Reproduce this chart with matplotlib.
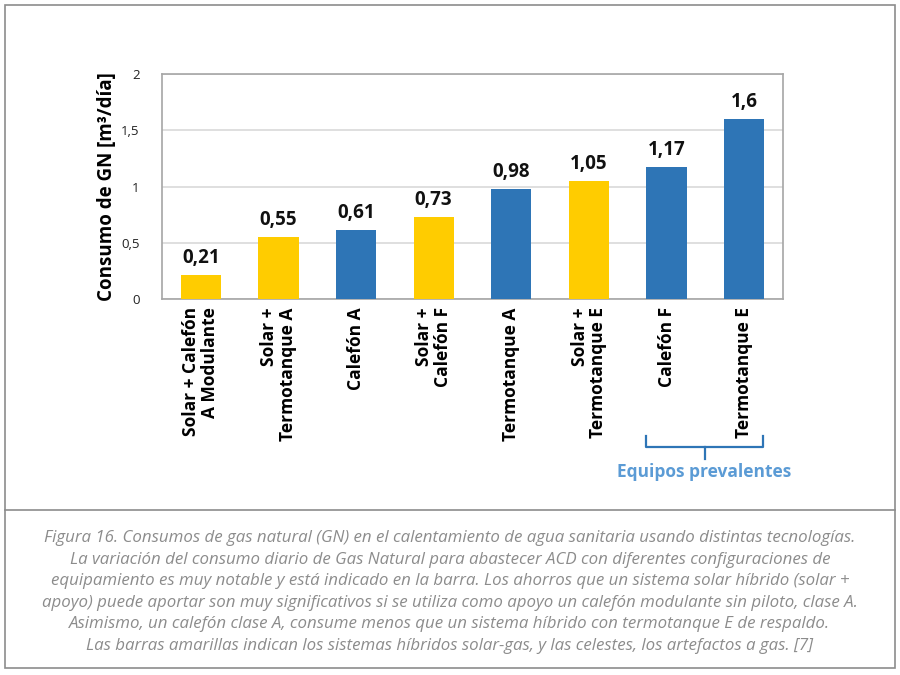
import matplotlib
matplotlib.use("Agg")
import matplotlib.pyplot as plt
from matplotlib.patches import Rectangle
from matplotlib.lines import Line2D

categories = ["Solar + Calefón\nA Modulante", "Solar +\nTermotanque A", "Calefón A",
              "Solar +\nCalefón F", "Termotanque A", "Solar +\nTermotanque E",
              "Calefón F", "Termotanque E"]
values = [0.21, 0.55, 0.61, 0.73, 0.98, 1.05, 1.17, 1.6]
value_labels = ["0,21", "0,55", "0,61", "0,73", "0,98", "1,05", "1,17", "1,6"]
is_solar = [True, True, False, True, False, True, False, False]
yticks = [0, 0.5, 1, 1.5, 2]
ytick_labels = ["0", "0,5", "1", "1,5", "2"]
ylabel = "Consumo de GN [m³/día]"
bracket_label = "Equipos prevalentes"
caption = ("Figura 16. Consumos de gas natural (GN) en el calentamiento de agua sanitaria usando distintas tecnologías.\n"
           "La variación del consumo diario de Gas Natural para abastecer ACD con diferentes configuraciones de\n"
           "equipamiento es muy notable y está indicado en la barra. Los ahorros que un sistema solar híbrido (solar +\n"
           "apoyo) puede aportar son muy significativos si se utiliza como apoyo un calefón modulante sin piloto, clase A.\n"
           "Asimismo, un calefón clase A, consume menos que un sistema híbrido con termotanque E de respaldo.\n"
           "Las barras amarillas indican los sistemas híbridos solar-gas, y las celestes, los artefactos a gas. [7]")

YELLOW = "#FFCC00"
BLUE = "#2E75B6"
plt.rcParams['font.family'] = ['Open Sans', 'DejaVu Sans']

fig = plt.figure(figsize=(9, 6.75), dpi=100)
W, H = 900, 675

def fx(x): return x / W
def fy(y): return 1 - y / H

# outer frame and separator
fig.patches.append(Rectangle((fx(5), fy(668)), fx(890), 663 / H, transform=fig.transFigure,
                             fill=False, edgecolor="#8c8c8c", linewidth=1.2))
fig.lines.append(Line2D([fx(5), fx(895)], [fy(510), fy(510)], transform=fig.transFigure,
                        color="#8c8c8c", linewidth=1.2))

ax = fig.add_axes([fx(162), fy(299), fx(783) - fx(162), (299 - 74) / H])
x = range(len(categories))
colors = [YELLOW if s else BLUE for s in is_solar]
ax.bar(x, values, width=0.52, color=colors, zorder=3)
ax.set_xlim(-0.5, len(categories) - 0.5)
ax.set_ylim(0, 2)
ax.set_yticks(yticks)
ax.set_yticklabels(ytick_labels, fontsize=9.5, color="#222222")
ax.grid(axis="y", color="#d9d9d9", linewidth=1.2, zorder=0)
for s in ax.spines.values():
    s.set_color("#a6a6a6")
    s.set_linewidth(1.2)
ax.tick_params(axis="both", length=0)
ax.tick_params(axis="y", pad=16)
ax.set_xticks(list(x))
ax.set_xticklabels(categories, rotation=90, fontsize=12.5, fontweight="bold",
                   ha="center", va="top", multialignment="right", linespacing=1.05)
ax.tick_params(axis="x", pad=6)
ax.set_ylabel(ylabel, fontsize=13.5, fontweight="bold", labelpad=3)

for xi, v, lab in zip(x, values, value_labels):
    ax.annotate(lab, (xi, v), xytext=(0, 5), textcoords="offset points",
                ha="center", va="bottom", fontsize=13.5, fontweight="bold", color="#111111")

# bracket
bc = "#2E75B6"
fig.lines.append(Line2D([fx(646), fx(646), fx(763), fx(763)],
                        [fy(436), fy(447), fy(447), fy(436)], transform=fig.transFigure,
                        color=bc, linewidth=1.6))
fig.lines.append(Line2D([fx(704.5), fx(704.5)], [fy(447), fy(459)], transform=fig.transFigure,
                        color=bc, linewidth=1.6))
fig.text(fx(704.5), fy(472), bracket_label, ha="center", va="center",
         fontsize=12.5, fontweight="bold", color="#5B9BD5")

fig.text(0.5, fy(592), caption, ha="center", va="center", fontsize=12.2,
         style="italic", fontweight="normal", color="#8c8c8c", linespacing=1.45)

fig.savefig("out.png", dpi=100)
